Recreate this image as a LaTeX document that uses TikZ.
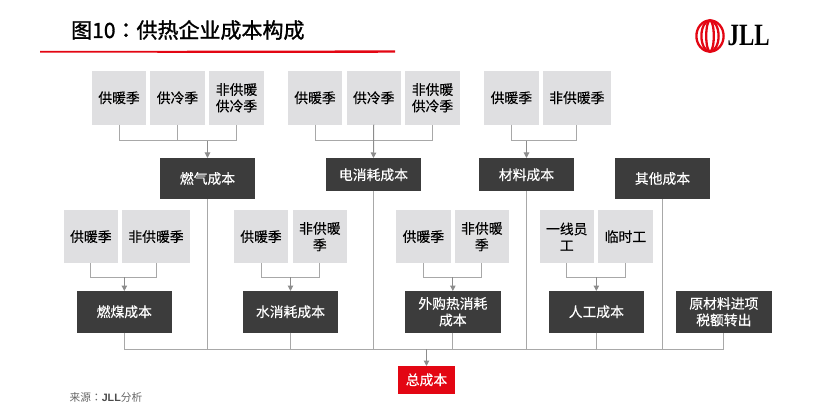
\documentclass[tikz,border=0pt]{standalone}
\usepackage{fontspec}
\setmainfont{Noto Sans CJK SC}
\newfontfamily\cjkmed[FakeBold=0.35]{Noto Sans CJK SC}
\newfontfamily\cjktitle[FakeBold=1.4]{Noto Sans CJK SC}
\newfontfamily\colonfont[FakeBold=1.8]{Noto Sans CJK TC}
\newfontfamily\colonlight{Noto Sans CJK TC}
\newfontfamily\serifl{Liberation Serif}
\newfontfamily\sansl{Liberation Sans}
\definecolor{lightbox}{HTML}{DFDFE1}
\definecolor{darkbox}{HTML}{3C3C3C}
\definecolor{connc}{HTML}{A8A8A8}
\definecolor{arrc}{HTML}{8C8C8C}
\definecolor{jllred}{HTML}{E30613}
\newcommand{\rectnode}[7]{%
  \pgfmathsetmacro{\rw}{#5-#3}\pgfmathsetmacro{\rh}{#6-#4}%
  \pgfmathsetmacro{\rx}{(#3+#5)/2}\pgfmathsetmacro{\ry}{(#4+#6)/2}%
  \node[#2,minimum width=\rw pt,minimum height=\rh pt] (#1) at (\rx,\ry) {#7};}
\usetikzlibrary{arrows.meta}
\tikzset{
  basebox/.style={inner sep=0pt,outer sep=0pt,align=center,font=\fontsize{13.8}{16.5}\selectfont\cjkmed},
  season/.style={basebox,fill=lightbox,text=black},
  cost/.style={basebox,fill=darkbox,text=white},
  totalbox/.style={basebox,fill=jllred,text=white},
  conn/.style={draw=connc,line width=1pt,line join=miter},
  connarrow/.style={draw=arrc,line width=1pt,-{Triangle[length=5.5pt,width=5.5pt]}},
}
\begin{document}
\begin{tikzpicture}[x=1pt,y=-1pt]
\useasboundingbox (0,0) rectangle (833,417);
% header
\node[anchor=west,inner sep=0pt,font=\fontsize{21}{24}\selectfont\cjktitle] (title) at (71,30) {图10{\colonfont ：}供热企业成本构成};
\fill[jllred] (40,51) -- (395,50.4) -- (395,52.6) -- (350,53) -- (40,52.6) -- cycle;
% logo
\foreach \rx in {13.6,8.6,3.8}{\draw[jllred,line width=2.3pt] (710,36) ellipse [x radius=\rx,y radius=15.6];}
\node[anchor=west,inner sep=0pt,xscale=.74,font=\fontsize{31}{31}\selectfont\serifl\bfseries] (logo) at (727.5,36) {JLL};
% top row
\rectnode{a1}{season}{92}{71}{146}{124.6}{供暖季}
\rectnode{a2}{season}{150}{71}{205}{124.6}{供冷季}
\rectnode{a3}{season}{209}{71}{264}{124.6}{非供暖\\供冷季}
\rectnode{b1}{season}{288}{71}{342}{124.6}{供暖季}
\rectnode{b2}{season}{346.5}{71}{401}{124.6}{供冷季}
\rectnode{b3}{season}{405}{71}{460}{124.6}{非供暖\\供冷季}
\rectnode{c1}{season}{484}{71}{538.7}{124.6}{供暖季}
\rectnode{c2}{season}{543}{71}{610.7}{124.6}{非供暖季}
\rectnode{gas}{cost}{160}{158}{255}{199}{燃气成本}
\rectnode{elec}{cost}{326}{158}{421}{191.5}{电消耗成本}
\rectnode{mat}{cost}{479}{158}{574}{191.5}{材料成本}
\rectnode{other}{cost}{615}{158}{710}{199}{其他成本}
% lower row
\rectnode{d1}{season}{63.7}{210.3}{118}{263}{供暖季}
\rectnode{d2}{season}{122}{210.3}{190}{263}{非供暖季}
\rectnode{e1}{season}{234}{210.3}{288}{263}{供暖季}
\rectnode{e2}{season}{292.7}{210.3}{347}{263}{非供暖\\季}
\rectnode{f1}{season}{396}{210.3}{450.7}{263}{供暖季}
\rectnode{f2}{season}{454.7}{210.3}{509}{263}{非供暖\\季}
\rectnode{g1}{season}{539.5}{210.3}{594}{263}{一线员\\工}
\rectnode{g2}{season}{598}{210.3}{653}{263}{临时工}
\rectnode{coal}{cost}{76.7}{291}{172}{332.5}{燃煤成本}
\rectnode{water}{cost}{243}{291}{338}{332.5}{水消耗成本}
\rectnode{heat}{cost}{405}{291}{500.7}{332.5}{外购热消耗\\成本}
\rectnode{labor}{cost}{548.7}{291}{644}{332.5}{人工成本}
\rectnode{tax}{cost}{676}{291}{771.7}{332.5}{原材料进项\\税额转出}
\rectnode{total}{totalbox}{397.7}{366}{455.3}{393.7}{总成本}
% junction heights
\coordinate (jtop) at (0,141);
\coordinate (jlow) at (0,277);
\coordinate (bus) at (0,349.3);
% top groups
\draw[conn] (a1.south) -- (a1.south|-jtop) -- (a3.south|-jtop) -- (a3.south);
\draw[conn] (a2.south) -- (a2.south|-jtop);
\draw[connarrow] (gas.north|-jtop) -- (gas.north);
\draw[conn] (b1.south) -- (b1.south|-jtop) -- (b3.south|-jtop) -- (b3.south);
\draw[connarrow] (b2.south) -- (elec.north);
\draw[conn] (c1.south) -- (c1.south|-jtop) -- (c2.south|-jtop) -- (c2.south);
\draw[connarrow] (mat.north|-jtop) -- (mat.north);
% lower groups
\draw[conn] (d1.south) -- (d1.south|-jlow) -- (d2.south|-jlow) -- (d2.south);
\draw[connarrow] (coal.north|-jlow) -- (coal.north);
\draw[conn] (e1.south) -- (e1.south|-jlow) -- (e2.south|-jlow) -- (e2.south);
\draw[connarrow] (water.north|-jlow) -- (water.north);
\draw[conn] (f1.south) -- (f1.south|-jlow) -- (f2.south|-jlow) -- (f2.south);
\draw[connarrow] (heat.north|-jlow) -- (heat.north);
\draw[conn] (g1.south) -- (g1.south|-jlow) -- (g2.south|-jlow) -- (g2.south);
\draw[connarrow] (labor.north|-jlow) -- (labor.north);
% bus
\draw[conn] (coal.south) -- (coal.south|-bus) -- (tax.south|-bus) -- (tax.south);
\draw[conn] (water.south) -- (water.south|-bus);
\draw[conn] (heat.south) -- (heat.south|-bus);
\draw[conn] (labor.south) -- (labor.south|-bus);
\draw[conn] (gas.south) -- (gas.south|-bus);
\draw[conn] (elec.south) -- (elec.south|-bus);
\draw[conn] (mat.south) -- (mat.south|-bus);
\draw[conn] (other.south) -- (other.south|-bus);
\draw[connarrow] (total.north|-bus) -- (total.north);
% source
\node[anchor=west,inner sep=0pt,text=black!60,font=\fontsize{10.7}{13}\selectfont] (source) at (69.5,397) {来源{\colonlight ：}{\sansl\bfseries\color{black!70}JLL}分析};
\end{tikzpicture}
\end{document}
